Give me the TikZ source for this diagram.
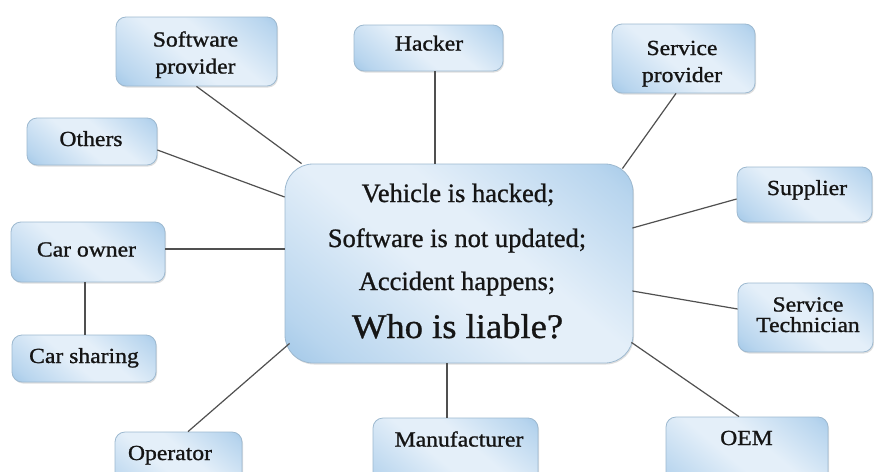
\documentclass[tikz,border=0pt]{standalone}
\usepackage{fontspec}
\setmainfont{Liberation Serif}
\newfontfamily\boxfont{Liberation Serif}[FakeStretch=1.1,FakeBold=1.1]
\newfontfamily\centfont{Liberation Serif}[FakeBold=0.9]
\newfontfamily\whofont{Liberation Serif}[FakeStretch=1.06,FakeBold=0.9]
\usetikzlibrary{calc,shadows}
\definecolor{boxlight}{HTML}{E4EFF9}
\definecolor{boxmid}{HTML}{B8D5EE}
\definecolor{boxblue}{HTML}{78AEDB}
\definecolor{boxline}{HTML}{9DB9D0}
\definecolor{linkgray}{HTML}{505050}
\definecolor{textdark}{HTML}{151515}
\pgfdeclareverticalshading{boxshade}{100bp}{color(0bp)=(boxblue); color(22bp)=(boxmid); color(45bp)=(boxlight); color(58bp)=(boxlight); color(80bp)=(boxmid); color(100bp)=(boxblue)}
\tikzset{
  box/.style={rectangle, rounded corners=10pt, draw=boxline, line width=0.8pt,
    shade, shading=boxshade, shading angle=-40,
    drop shadow={shadow xshift=1pt, shadow yshift=-1.5pt, opacity=0.25}},
  bigbox/.style={box, rounded corners=28pt},
  boxtext/.style={anchor=base, inner sep=0pt, text=textdark, font=\boxfont\fontsize{21.5}{24}\selectfont},
  maintext/.style={anchor=base, inner sep=0pt, text=textdark, font=\centfont\fontsize{26.5}{32}\selectfont},
  whotext/.style={anchor=base, inner sep=0pt, text=textdark, font=\whofont\fontsize{34.5}{40}\selectfont},
  link/.style={draw=linkgray, line width=1.2pt},
}
\begin{document}
\begin{tikzpicture}[x=1pt,y=-1pt]
\useasboundingbox (0,0) rectangle (874,471);
\fill[white] (0,0) rectangle (874,471);
\clip (0,0) rectangle (874,471);

% boxes
\node[bigbox, minimum width=348pt, minimum height=199pt] (cent) at (459,263.5) {};
\node[box, minimum width=161pt, minimum height=69pt] (swp) at (196.5,51.5) {};
\node[box, minimum width=149pt, minimum height=46pt] (hacker) at (428.5,48) {};
\node[box, minimum width=143pt, minimum height=69pt] (svp) at (683.5,58.5) {};
\node[box, minimum width=130pt, minimum height=47pt] (others) at (92,141.5) {};
\node[box, minimum width=154pt, minimum height=60pt] (carowner) at (88,252) {};
\node[box, minimum width=144pt, minimum height=47pt] (carsharing) at (84,358.5) {};
\node[box, minimum width=127pt, minimum height=70pt] (operator) at (178.5,467) {};
\node[box, minimum width=165pt, minimum height=78pt] (manuf) at (455.5,457) {};
\node[box, minimum width=162pt, minimum height=78pt] (oem) at (747,456) {};
\node[box, minimum width=135pt, minimum height=55pt] (supplier) at (804.5,194.5) {};
\node[box, minimum width=135pt, minimum height=69pt] (svtech) at (805.5,317.5) {};

% texts
\node[boxtext] (swp-t1) at (195.5,46.5) {Software};
\node[boxtext] (swp-t2) at (195.5,73.5) {provider};
\node[boxtext] (hacker-t) at (429,50.5) {Hacker};
\node[boxtext] (svp-t1) at (682,55) {Service};
\node[boxtext] (svp-t2) at (682,82) {provider};
\node[boxtext] (others-t) at (91,146) {Others};
\node[boxtext] (carowner-t) at (86.5,256.5) {Car owner};
\node[boxtext] (carsharing-t) at (84,363) {Car sharing};
\node[boxtext] (supplier-t) at (807,195) {Supplier};
\node[boxtext] (svtech-t1) at (808,311.5) {Service};
\node[boxtext] (svtech-t2) at (808,332) {Technician};
\node[boxtext] (oem-t) at (746.5,445) {OEM};
\node[boxtext] (manuf-t) at (459,446.5) {Manufacturer};
\node[boxtext] (operator-t) at (170,460) {Operator};

\node[maintext] (c1) at (458,202) {Vehicle is hacked;};
\node[maintext] (c2) at (457,247) {Software is not updated;};
\node[maintext] (c3) at (457,290) {Accident happens;};
\node[whotext] (c4) at (457.5,338) {Who is liable?};

% connectors
\draw[link] (swp.south) -- ($(cent.north west)+(17,0)$);
\draw[link] ($(hacker.south)+(6.5,0)$) -- ($(cent.north)+(-24,0)$);
\draw[link] ($(svp.south)+(-7.5,0)$) -- ($(cent.north east)+(-11,5)$);
\draw[link] ($(others.east)+(0,8.5)$) -- ($(cent.west)+(0,-66.5)$);
\draw[link] ($(carowner.east)+(0,-3)$) -- ($(cent.west)+(0,-14.5)$);
\draw[link] ($(carowner.south)+(-3,0)$) -- ($(carsharing.north)+(1,0)$);
\draw[link] ($(cent.east)+(-1,-35.5)$) -- ($(supplier.west)+(0,4.5)$);
\draw[link] ($(cent.east)+(-1,27.5)$) -- ($(svtech.west)+(0,-8.5)$);
\draw[link] ($(cent.south east)+(-2,-21)$) -- ($(oem.north)+(-8,0)$);
\draw[link] ($(cent.south)+(-12,0)$) -- ($(manuf.north)+(-8.5,0)$);
\draw[link] ($(cent.south west)+(5,-20)$) -- ($(operator.north)+(9.5,0)$);
\end{tikzpicture}
\end{document}
